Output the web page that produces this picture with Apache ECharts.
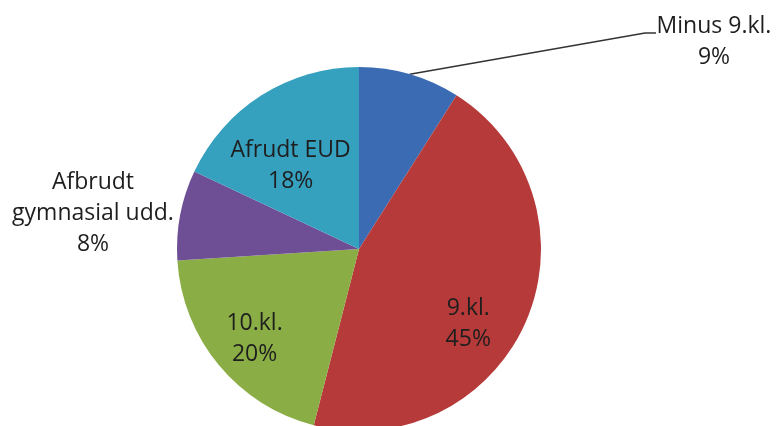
<!DOCTYPE html>
<html>
<head>
<meta charset="utf-8">
<script src="https://cdn.jsdelivr.net/npm/echarts@6/dist/echarts.min.js"></script>
<style>
  html, body { margin: 0; padding: 0; background: #fff; }
  #chart { width: 778px; height: 426px; }
</style>
</head>
<body>
<div id="chart"></div>
<script>
// slices, clockwise from 12 o'clock
const categories = ['Minus 9.kl.', '9.kl.', '10.kl.', 'Afbrudt gymnasial udd.', 'Afrudt EUD'];
const labelNames = ['Minus 9.kl.', '9.kl.', '10.kl.', 'Afbrudt\ngymnasial udd.', 'Afrudt EUD'];
const values = [9, 45, 20, 8, 18];
const colors = ['#3b6cb3', '#b53a39', '#8aae45', '#6e4f96', '#36a0bf'];

const CX = 359, CY = 249, R = 182;

const el = document.getElementById('chart');
const chart = echarts.init(el, null, { renderer: 'canvas' });

// nudges for the labels drawn on top of the slices
const insideShift = {
  1: [23, 38],
  2: [-32, 30],
  4: [-18, -4]
};

function edgePoint(idx) {
  const total = values.reduce((a, b) => a + b, 0);
  let before = 0;
  for (let i = 0; i < idx; i++) before += values[i];
  const mid = (before + values[idx] / 2) / total * Math.PI * 2;
  return [CX + R * Math.sin(mid), CY - R * Math.cos(mid)];
}

chart.setOption({
  animation: false,
  series: [{
    type: 'pie',
    center: [CX, CY],
    radius: R,
    startAngle: 90,
    clockwise: true,
    avoidLabelOverlap: false,
    itemStyle: { borderWidth: 0 },
    label: {
      position: 'inside',
      formatter: p => labelNames[p.dataIndex] + '\n' + p.value + '%',
      fontFamily: 'Open Sans',
      fontSize: 23,
      lineHeight: 31,
      color: '#1e1e1e',
      align: 'center'
    },
    labelLine: { show: false },
    labelLayout: function (params) {
      const i = params.dataIndex;
      if (i === 0) {
        const e = edgePoint(0);
        return {
          x: 714, y: 42, align: 'center', verticalAlign: 'middle',
          labelLinePoints: [e, [645, 33], [656, 33]]
        };
      }
      if (i === 3) {
        return { x: 93, y: 213, align: 'center', verticalAlign: 'middle' };
      }
      const s = insideShift[i] || [0, 0];
      return { dx: s[0], dy: s[1] };
    },
    data: categories.map((name, i) => {
      const d = { name: name, value: values[i], itemStyle: { color: colors[i] } };
      if (i === 0) {
        d.label = { position: 'outside' };
        d.labelLine = { show: true, length: 10, length2: 10, lineStyle: { color: '#333', width: 1.5 } };
      }
      if (i === 3) {
        d.label = { position: 'outside' };
        d.labelLine = { show: false };
      }
      return d;
    })
  }]
});
window.addEventListener('resize', () => chart.resize());
</script>
</body>
</html>
